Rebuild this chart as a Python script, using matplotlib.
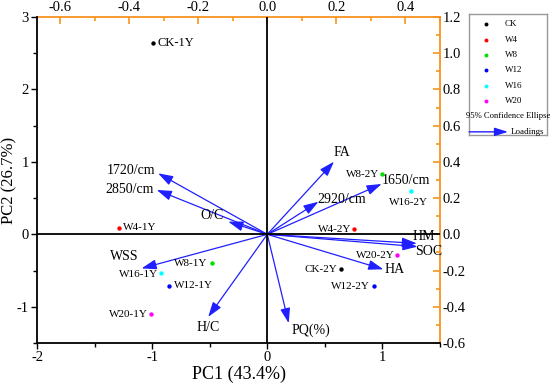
import matplotlib
matplotlib.use("Agg")
import matplotlib.pyplot as plt
from matplotlib.ticker import MultipleLocator, FuncFormatter

plt.rcParams['font.family'] = ['Liberation Serif', 'DejaVu Serif']
plt.rcParams['axes.unicode_minus'] = False

# ---- scores (PC1, PC2) ----
score_names = ["CK-1Y", "W4-1Y", "W8-1Y", "W16-1Y", "W12-1Y", "W20-1Y",
               "W8-2Y", "W16-2Y", "W4-2Y", "W20-2Y", "CK-2Y", "W12-2Y"]
score_pc1 = [-0.99, -1.29, -0.48, -0.92, -0.85, -1.01,
             1.00, 1.25, 0.75, 1.13, 0.64, 0.93]
score_pc2 = [2.64, 0.09, -0.40, -0.54, -0.71, -1.10,
             0.83, 0.60, 0.07, -0.29, -0.48, -0.72]
score_group = ["CK", "W4", "W8", "W16", "W12", "W20",
               "W8", "W16", "W4", "W20", "CK", "W12"]

groups = ["CK", "W4", "W8", "W12", "W16", "W20"]
group_colors = ["#000000", "#ff0000", "#00e000", "#0000ff", "#00ffff", "#ff00ff"]

# ---- loadings ----
load_names = ["1720/cm", "2850/cm", "O/C", "WSS", "H/C", "PQ(%)",
              "FA", "2920/cm", "1650/cm", "HM", "SOC", "HA"]
load_x = [-0.316, -0.320, -0.113, -0.364, -0.171, 0.062,
          0.193, 0.148, 0.331, 0.433, 0.435, 0.336]
load_y = [0.337, 0.245, 0.070, -0.188, -0.456, -0.49,
          0.401, 0.180, 0.278, -0.050, -0.068, -0.193]

xlabel = "PC1 (43.4%)"
ylabel = "PC2 (26.7%)"
orange = "#f7931e"
arrow_blue = "#2020ff"

fig = plt.figure(figsize=(5.5, 3.85), dpi=100)
ax = fig.add_axes([37/550, 42/385, 403/550, 326/385])
ax.set_xlim(-2, 1.5)
ax.set_ylim(-1.5, 3)

ax.axhline(0, color="black", lw=1.3, zorder=1)
ax.axvline(0, color="black", lw=1.3, zorder=1)

# loading axes (top / right, orange)
axl = fig.add_axes(ax.get_position())
axl.patch.set_visible(False)
axl.set_xlim(-2/3, 0.5)
axl.set_ylim(-0.6, 1.2)
axl.xaxis.tick_top()
axl.yaxis.tick_right()
axl.xaxis.set_major_locator(MultipleLocator(0.2))
axl.xaxis.set_minor_locator(MultipleLocator(0.1))
axl.yaxis.set_major_locator(MultipleLocator(0.2))
axl.yaxis.set_minor_locator(MultipleLocator(0.1))
axl.tick_params(axis="both", which="both", direction="in", color=orange, width=1.2, labelsize=10.5, pad=2)
axl.tick_params(which="major", length=5)
axl.tick_params(which="minor", length=3)
axl.xaxis.set_major_formatter(FuncFormatter(lambda v, p: f"{v:.1f}"))
axl.yaxis.set_major_formatter(FuncFormatter(lambda v, p: f"{v:.1f}"))
for s in ["left", "bottom"]:
    axl.spines[s].set_visible(False)
for s in ["top", "right"]:
    axl.spines[s].set_color(orange)
    axl.spines[s].set_linewidth(1.3)

for nm, lx, ly in zip(load_names, load_x, load_y):
    axl.annotate("", xy=(lx, ly), xytext=(0, 0),
                 arrowprops=dict(arrowstyle="-|>,head_length=0.9,head_width=0.3",
                                 color=arrow_blue, lw=0.9, shrinkA=0, shrinkB=0))

lab_off = {"1720/cm": (-2, 2, "right", "center"), "2850/cm": (-2, 0, "right", "center"),
           "O/C": (-3, 0, "right", "bottom"), "WSS": (-2, 4, "right", "bottom"),
           "H/C": (0, -3, "center", "top"), "PQ(%)": (2, 0, "left", "top"),
           "FA": (0, 2, "left", "bottom"), "2920/cm": (-1, -3, "left", "bottom"),
           "1650/cm": (0, -2, "left", "bottom"), "HM": (-3, 0, "left", "bottom"),
           "SOC": (-2, 1, "left", "top"), "HA": (1, 0, "left", "center")}
for nm, lx, ly in zip(load_names, load_x, load_y):
    dx, dy, ha, va = lab_off[nm]
    axl.annotate(nm, xy=(lx, ly), xytext=(dx, dy), textcoords="offset points",
                 ha=ha, va=va, fontsize=10)

# score points on main axes (drawn above)
ax.set_zorder(axl.get_zorder() + 1)
ax.patch.set_visible(False)
fig.patch.set_facecolor("white")
cmap = dict(zip(groups, group_colors))
for nm, x, y, g in zip(score_names, score_pc1, score_pc2, score_group):
    ax.scatter(x, y, s=10, color=cmap[g], zorder=5, linewidths=0)

pt_off = {"CK-1Y": (3, 0, "left", "center"), "W4-1Y": (3, 0, "left", "center"),
          "W8-1Y": (-3, 0, "right", "center"), "W16-1Y": (-2, -1, "right", "center"),
          "W12-1Y": (3, 0, "left", "center"), "W20-1Y": (-2, 0, "right", "center"),
          "W8-2Y": (-2, 0, "right", "center"), "W16-2Y": (-2, -5, "center", "top"),
          "W4-2Y": (-2, 0, "right", "center"), "W20-2Y": (-2, 0, "right", "center"),
          "CK-2Y": (-3, 0, "right", "center"), "W12-2Y": (-3, 0, "right", "center")}
for nm, x, y in zip(score_names, score_pc1, score_pc2):
    dx, dy, ha, va = pt_off[nm]
    fs = 9 if nm == "CK-1Y" else 8
    ax.annotate(nm, xy=(x, y), xytext=(dx, dy), textcoords="offset points",
                ha=ha, va=va, fontsize=fs, zorder=6)

ax.xaxis.set_major_locator(MultipleLocator(1))
ax.xaxis.set_minor_locator(MultipleLocator(0.5))
ax.yaxis.set_major_locator(MultipleLocator(1))
ax.yaxis.set_minor_locator(MultipleLocator(0.5))
ax.tick_params(axis="both", which="both", direction="out", labelsize=10.5, width=1.0, pad=2)
ax.tick_params(which="major", length=4)
ax.tick_params(which="minor", length=3)
ax.spines["top"].set_visible(False)
ax.spines["right"].set_visible(False)
for s in ["left", "bottom"]:
    ax.spines[s].set_linewidth(1.3)
ax.set_xlabel(xlabel, fontsize=13, labelpad=1)
ax.set_ylabel(ylabel, fontsize=12)
ax.yaxis.set_label_coords(-0.048, 0.5)

# legend box
lg = fig.add_axes([469/550, 1 - 135/385, 78/550, 121/385])
lg.set_xlim(0, 1)
lg.set_ylim(0, 1)
lg.set_xticks([])
lg.set_yticks([])
for s in lg.spines.values():
    s.set_color("#999999")
    s.set_linewidth(1.0)
for i, (g, c) in enumerate(zip(groups, group_colors)):
    yy = 0.915 - i * 0.127
    lg.scatter(0.22, yy, s=8, color=c, linewidths=0)
    lg.text(0.46, yy, g, fontsize=6.5, va="center", ha="left")
lg.text(0.5, 0.915 - 6 * 0.127, "95% Confidence Ellipse", fontsize=6.2,
        va="center", ha="center")
yy = 0.915 - 7 * 0.127
lg.annotate("", xy=(0.5, yy), xytext=(0.0, yy),
            arrowprops=dict(arrowstyle="-|>,head_length=0.8,head_width=0.25",
                            color=arrow_blue, lw=1.0, shrinkA=0, shrinkB=0))
lg.text(0.53, yy, "Loadings", fontsize=6.5, va="center", ha="left")

fig.savefig("out.png", dpi=100)
